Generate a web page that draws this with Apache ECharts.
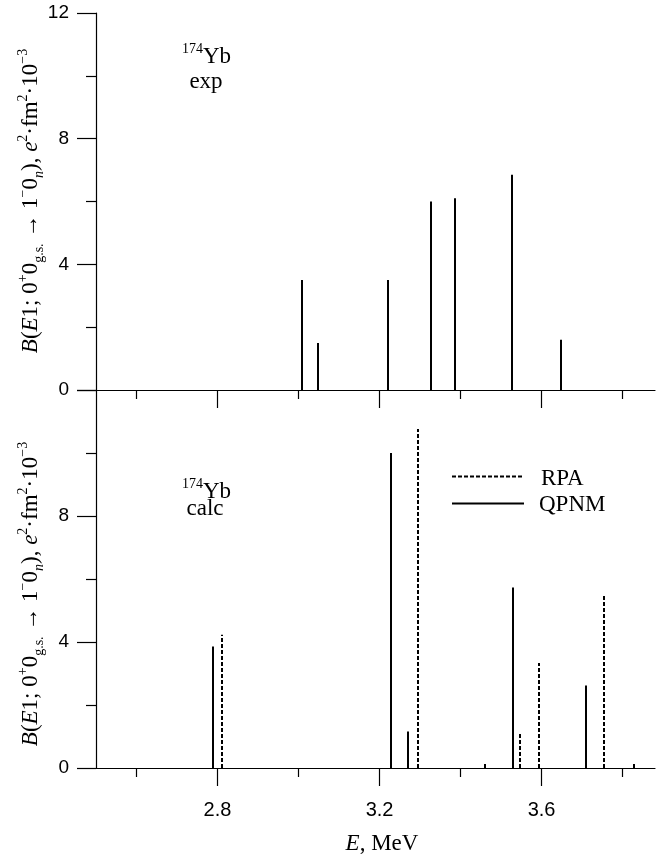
<!DOCTYPE html>
<html><head><meta charset="utf-8">
<script src="https://cdn.jsdelivr.net/npm/echarts@6/dist/echarts.min.js"></script>
<style>html,body{margin:0;padding:0;background:#fff}#c{width:657px;height:859px}</style>
</head><body><div id="c"></div>
<script>
// ---- data ----
const xMajorTicks = [2.8, 3.2, 3.6];
const xMinorTicks = [2.6, 3.0, 3.4, 3.8];
const yLabelsTop = [0, 4, 8, 12];
const yLabelsBottom = [0, 4, 8];
const expEnergy = [3.008, 3.049, 3.221, 3.327, 3.386, 3.527, 3.647];
const expB      = [3.5, 1.5, 3.5, 6.0, 6.1, 6.85, 1.6];
const qpnmEnergy = [2.788, 3.229, 3.269, 3.460, 3.530, 3.709, 3.829];
const qpnmB      = [3.86, 10.0, 1.16, 0.13, 5.73, 2.62, 0.13];
const rpaEnergy = [2.811, 3.296, 3.546, 3.594, 3.755];
const rpaB      = [4.23, 10.76, 1.11, 3.33, 5.5];

const SERIF = 'Liberation Serif, Times New Roman, serif';
const SANS = 'Liberation Sans, Arial, sans-serif';

const pairs = (xs, ys) => xs.map((x, i) => [x, ys[i]]);

function stick(dash) {
  return function (params, api) {
    const x = api.value(0), y = api.value(1);
    const p0 = api.coord([x, 0]), p1 = api.coord([x, y]);
    const px = Math.round(p0[0]);
    return {
      type: 'line',
      shape: { x1: px, y1: p0[1], x2: px, y2: p1[1] },
      style: { stroke: '#000', lineWidth: 2, lineDash: dash }
    };
  };
}

function xAx(grid, major, labels) {
  return {
    type: 'value', gridIndex: grid, min: 2.5, max: 3.88, position: 'bottom',
    axisLine: { show: major, onZero: false, lineStyle: { color: '#000', width: 1.2 } },
    axisTick: { show: true, customValues: major ? xMajorTicks : xMinorTicks, length: major ? 18 : 9,
                lineStyle: { color: '#000', width: 1.2 } },
    axisLabel: { show: labels, customValues: xMajorTicks, margin: 32, fontSize: 20,
                 fontFamily: SANS, color: '#000' },
    splitLine: { show: false }
  };
}
function yAx(grid, labels) {
  return {
    type: 'value', gridIndex: grid, min: 0, max: 12, interval: 4,
    axisLine: { show: true, lineStyle: { color: '#000', width: 1.2 } },
    axisTick: { show: true, length: 19, lineStyle: { color: '#000', width: 1.2 } },
    minorTick: { show: true, splitNumber: 2, length: 10, lineStyle: { color: '#000', width: 1.2 } },
    axisLabel: { customValues: labels, margin: 27, fontSize: 19, fontFamily: SANS, color: '#000' },
    splitLine: { show: false }, minorSplitLine: { show: false }
  };
}

const titleRich = {
  i:   { fontFamily: SERIF, fontSize: 23, fontStyle: 'italic', lineHeight: 30, fill: '#000' },
  n:   { fontFamily: SERIF, fontSize: 23, lineHeight: 30, fill: '#000' },
  sup: { fontFamily: SERIF, fontSize: 14, lineHeight: 20, verticalAlign: 'top', fill: '#000' },
  sub: { fontFamily: SERIF, fontSize: 14, lineHeight: 16, verticalAlign: 'bottom', fill: '#000' },
  subi:{ fontFamily: SERIF, fontSize: 14, fontStyle: 'italic', lineHeight: 16, verticalAlign: 'bottom', fill: '#000' }
};
const yTitle = '{i|B}{n|(}{i|E}{n|1; 0}{sup|+}{n|0}{sub|g.s.}{n| → 1}{sup|−}{n|0}{subi|n}{n|), }{i|e}{sup|2}{n|·fm}{sup|2}{n|·10}{sup|−3}';

function txt(x, y, text, opts) {
  return Object.assign({
    type: 'text', x: x, y: y, silent: true,
    style: Object.assign({ text: text, rich: titleRich, align: 'center', verticalAlign: 'middle',
                           font: '23px ' + SERIF, fill: '#000' }, opts || {})
  });
}

const chart = echarts.init(document.getElementById('c'), null, { renderer: 'canvas' });
chart.setOption({
  backgroundColor: '#fff',
  animation: false,
  grid: [
    { left: 96, top: 13, width: 559, height: 377 },
    { left: 96, top: 390, width: 559, height: 378 }
  ],
  xAxis: [xAx(0, true, false), xAx(0, false, false), xAx(1, true, true), xAx(1, false, false)],
  yAxis: [yAx(0, yLabelsTop), yAx(1, yLabelsBottom)],
  series: [
    { type: 'custom', name: 'exp', xAxisIndex: 0, yAxisIndex: 0, data: pairs(expEnergy, expB), renderItem: stick(null) },
    { type: 'custom', name: 'QPNM', xAxisIndex: 2, yAxisIndex: 1, data: pairs(qpnmEnergy, qpnmB), renderItem: stick(null) },
    { type: 'custom', name: 'RPA', xAxisIndex: 2, yAxisIndex: 1, data: pairs(rpaEnergy, rpaB), renderItem: stick([4, 2]) }
  ],
  graphic: [
    Object.assign(txt(31, 201, yTitle), { rotation: Math.PI / 2 }),
    Object.assign(txt(31, 594, yTitle), { rotation: Math.PI / 2 }),
    txt(382, 844, '{i|E}{n|, MeV}'),
    txt(206.5, 57, '{sup|174}{n|Yb}'),
    txt(206, 82, '{n|exp}'),
    txt(206.5, 492, '{sup|174}{n|Yb}'),
    txt(205, 509, '{n|calc}'),
    { type: 'line', silent: true, shape: { x1: 452, y1: 476.5, x2: 524, y2: 476.5 },
      style: { stroke: '#000', lineWidth: 2, lineDash: [4, 2] } },
    { type: 'line', silent: true, shape: { x1: 452, y1: 503.5, x2: 524, y2: 503.5 },
      style: { stroke: '#000', lineWidth: 2 } },
    txt(541, 479, '{n|RPA}', { align: 'left' }),
    txt(539, 504.5, '{n|QPNM}', { align: 'left' })
  ]
});
</script></body></html>
